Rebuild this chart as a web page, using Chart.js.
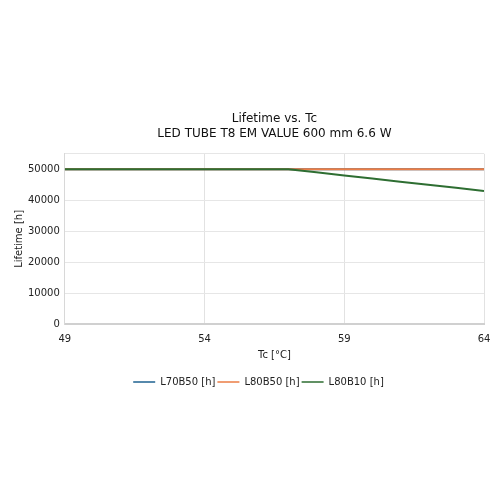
<!DOCTYPE html>
<html>
<head>
<meta charset="utf-8">
<script src="https://cdn.jsdelivr.net/npm/chart.js@4"></script>
<style>
  html, body { margin: 0; padding: 0; background: #fff; }
  #wrap { width: 500px; height: 500px; }
</style>
</head>
<body>
<div id="wrap"><canvas id="lifeChart"></canvas></div>
<script>
const tc = [49, 50, 51, 52, 53, 54, 55, 56, 57, 58, 59, 60, 61, 62, 63, 64];
const l70b50 = [50000, 50000, 50000, 50000, 50000, 50000, 50000, 50000, 50000, 50000, 50000, 50000, 50000, 50000, 50000, 50000];
const l80b50 = [50000, 50000, 50000, 50000, 50000, 50000, 50000, 50000, 50000, 50000, 50000, 50000, 50000, 50000, 50000, 50000];
const l80b10 = [50000, 50000, 50000, 50000, 50000, 50000, 50000, 50000, 50000, 49000, 48000, 47000, 46000, 45000, 44000, 43000];
const xTicks = [49, 54, 59, 64];
const yTicks = [0, 10000, 20000, 30000, 40000, 50000];

const toPoints = (vals) => vals.map((v, i) => ({ x: tc[i], y: v }));

Chart.defaults.font.family = 'DejaVu Sans';
Chart.defaults.color = '#222';

// centre the title over the plot area, like the original
const shiftBlocks = {
    id: 'shiftBlocks',
    afterLayout(chart) {
        const t = chart.titleBlock;
        t.left = chart.chartArea.left;
        t.right = chart.chartArea.right;
        const lg = chart.legend;
        lg.left += 12;
        lg.right += 12;
    }
};

const ctx = document.getElementById('lifeChart').getContext('2d');
new Chart(ctx, {
    type: 'line',
    data: {
        datasets: [
            { label: 'L70B50 [h]', data: toPoints(l70b50), borderColor: '#1f6391', backgroundColor: '#1f6391', order: 3 },
            { label: 'L80B50 [h]', data: toPoints(l80b50), borderColor: '#ec7d45', backgroundColor: '#ec7d45', order: 2 },
            { label: 'L80B10 [h]', data: toPoints(l80b10), borderColor: '#2e6e32', backgroundColor: '#2e6e32', order: 1 }
        ]
    },
    plugins: [shiftBlocks],
    options: {
        animation: false,
        responsive: true,
        maintainAspectRatio: false,
        layout: { padding: { top: 112, bottom: 103, left: 9, right: 16 } },
        elements: {
            point: { radius: 0 },
            line: { borderWidth: 2, tension: 0 }
        },
        plugins: {
            title: {
                display: true,
                text: ['Lifetime vs. Tc', 'LED TUBE T8 EM VALUE 600 mm 6.6 W'],
                font: { size: 12, weight: 'normal', lineHeight: 1.2 },
                color: '#111',
                padding: { top: 0, bottom: 13 }
            },
            legend: {
                position: 'bottom',
                labels: {
                    boxWidth: 22,
                    boxHeight: 0,
                    padding: 2,
                    font: { size: 10 },
                    color: '#222',
                    sort: (a, b) => a.datasetIndex - b.datasetIndex,
                    generateLabels: (chart) => Chart.defaults.plugins.legend.labels.generateLabels(chart)
                        .map(item => Object.assign(item, { lineWidth: 1.5 }))
                }
            },
            tooltip: { enabled: false }
        },
        scales: {
            x: {
                type: 'linear',
                min: 49,
                max: 64,
                afterBuildTicks: (axis) => { axis.ticks = xTicks.map(v => ({ value: v })); },
                ticks: { font: { size: 10 }, color: '#222', maxRotation: 0, padding: 9 },
                grid: { color: '#e2e2e2', drawTicks: false },
                border: { color: '#d0d0d0', width: 2 },
                title: { display: true, text: 'Tc [°C]', font: { size: 10 }, color: '#222', padding: { top: -5, bottom: 14 } }
            },
            y: {
                min: 0,
                max: 55000,
                afterBuildTicks: (axis) => { axis.ticks = yTicks.concat([55000]).map(v => ({ value: v })); },
                ticks: {
                    font: { size: 10 },
                    color: '#222',
                    padding: 5,
                    callback: (v) => (v === 55000 ? '' : v)
                },
                grid: { color: '#e6e6e6', drawTicks: false },
                border: { color: '#d8d8d8' },
                title: { display: true, text: 'Lifetime [h]', font: { size: 10 }, color: '#222', padding: { top: 4, bottom: -2 } }
            }
        }
    }
});
</script>
</body>
</html>
